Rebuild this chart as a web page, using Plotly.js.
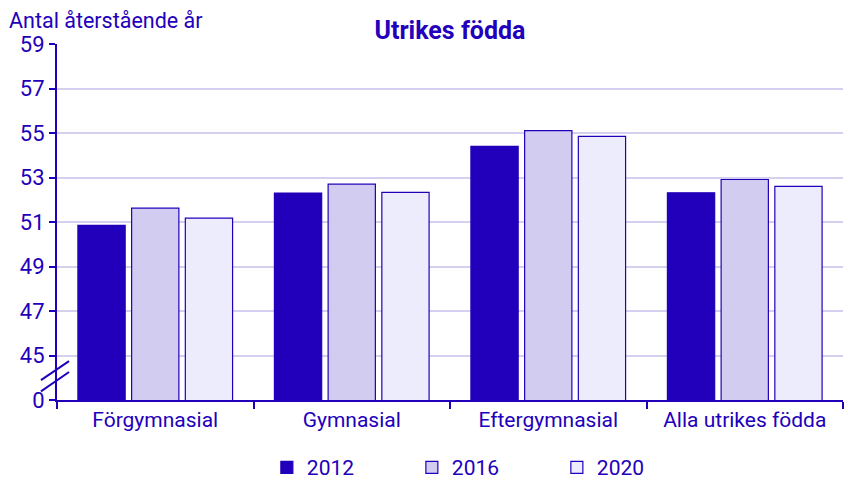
<!DOCTYPE html>
<html>
<head>
<meta charset="utf-8">
<script src="https://cdn.plot.ly/plotly-3.0.1.min.js"></script>
<style>
  html, body { margin: 0; padding: 0; background: #fff; }
  #chart { width: 848px; height: 484px; }
</style>
</head>
<body>
<div id="chart"></div>
<script>
// Data
const categories = ['Förgymnasial', 'Gymnasial', 'Eftergymnasial', 'Alla utrikes födda'];
const years = ['2012', '2016', '2020'];
const values2012 = [50.85, 52.3, 54.4, 52.31];
const values2016 = [51.62, 52.7, 55.11, 52.91];
const values2020 = [51.17, 52.33, 54.85, 52.6];

// Axis: 0 is drawn in place of 43 (broken axis)
const yTickVals = [43, 45, 47, 49, 51, 53, 55, 57, 59];
const yTickText = ['0', '45', '47', '49', '51', '53', '55', '57', '59'];

const ink = '#2200bb';
const fills = ['#2200bb', '#d1ccf0', '#ececfc'];
const series = [values2012, values2016, values2020];

const traces = series.map((vals, i) => ({
    type: 'bar',
    name: years[i],
    x: categories,
    y: vals,
    marker: {
        color: fills[i],
        line: { color: ink, width: 1.2 }
    },
    hoverinfo: 'x+y+name'
}));

const layout = {
    width: 848,
    height: 484,
    font: { family: 'Roboto, sans-serif', color: ink, size: 21 },
    paper_bgcolor: '#fff',
    plot_bgcolor: '#fff',
    margin: { l: 57, r: 5, t: 44, b: 84, autoexpand: false },
    title: {
        text: '<b>Utrikes födda</b>',
        font: { size: 25, color: ink },
        x: 0.5, xref: 'paper', xanchor: 'center',
        y: 0.938, yref: 'container', yanchor: 'middle'
    },
    barmode: 'group',
    bargap: 0.18,
    bargroupgap: 0.12,
    xaxis: {
        type: 'category',
        showline: true,
        linecolor: ink,
        linewidth: 2,
        ticks: 'outside',
        tickson: 'boundaries',
        ticklen: 7,
        tickcolor: ink,
        tickwidth: 2,
        showgrid: false,
        tickfont: { size: 21, color: ink },
        automargin: false,
        fixedrange: true
    },
    yaxis: {
        range: [43, 59],
        tickvals: yTickVals,
        ticktext: yTickText,
        showline: true,
        linecolor: ink,
        linewidth: 2,
        ticks: 'outside',
        ticklen: 6,
        tickcolor: ink,
        tickwidth: 2,
        gridcolor: '#d4d0ef',
        gridwidth: 2,
        zeroline: false,
        tickfont: { size: 22, color: ink },
        automargin: false,
        fixedrange: true
    },
    legend: {
        orientation: 'h',
        x: 0.267, xanchor: 'left',
        xref: 'paper',
        y: -0.19, yref: 'paper', yanchor: 'middle',
        entrywidth: 100,
        itemwidth: 30,
        font: { size: 21, color: ink },
        itemclick: false
    },
    annotations: [{
        text: 'Antal återstående år',
        xref: 'paper', yref: 'paper',
        x: -0.0635, xanchor: 'left',
        y: 1.067, yanchor: 'middle',
        showarrow: false,
        font: { size: 21.5, color: ink }
    }],
    // break marks on the y axis
    shapes: [
        { type: 'line', xref: 'paper', yref: 'y', x0: -0.0204, y0: 43.89, x1: 0.0153, y1: 44.75,
          line: { color: ink, width: 2 } },
        { type: 'line', xref: 'paper', yref: 'y', x0: -0.0204, y0: 43.39, x1: 0.0153, y1: 44.26,
          line: { color: ink, width: 2 } }
    ]
};

Plotly.newPlot('chart', traces, layout, { displayModeBar: false, responsive: false });
</script>
</body>
</html>
